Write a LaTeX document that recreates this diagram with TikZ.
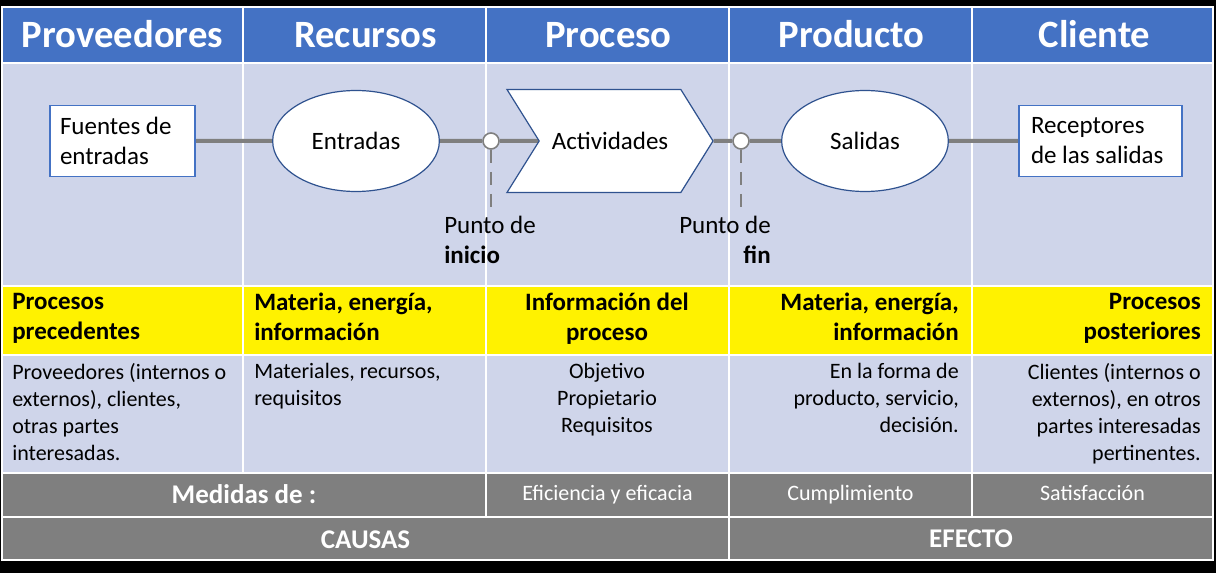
\documentclass[tikz,border=0pt]{standalone}
\usepackage{fontspec}
\setmainfont{Carlito}
\usetikzlibrary{positioning,shapes.geometric,shapes.symbols}
\definecolor{cabecera}{HTML}{4472C4}
\definecolor{fondo}{HTML}{CFD5EA}
\definecolor{gris}{HTML}{7F7F7F}
\definecolor{borde}{HTML}{2F528F}
\pgfdeclarelayer{tabla}
\pgfdeclarelayer{lineas}
\pgfsetlayers{tabla,lineas,main}
\begin{document}
\begin{tikzpicture}[x=.75pt,y=-.75pt,
  cell/.style={inner sep=0pt,execute at begin node=\strut},
  cabtxt/.style={cell,text=white,font=\bfseries\fontsize{29}{34}\selectfont},
  cuerpo/.style={font=\fontsize{18.75}{22.5}\selectfont},
  ylw/.style={cell,font=\bfseries\fontsize{18.75}{22.5}\selectfont},
  desc/.style={cell,font=\fontsize{16.5}{20.25}\selectfont},
  gristxt/.style={cell,text=white,font=\fontsize{16.5}{20}\selectfont},
  grisbold/.style={cell,text=white,font=\bfseries\fontsize{20.25}{24}\selectfont},
  caja/.style={cuerpo,draw=cabecera,line width=.9pt,fill=white,align=flush left,minimum height=53.25pt,inner ysep=0pt},
  elip/.style={cuerpo,ellipse,draw=borde,line width=.9pt,fill=white,minimum width=125pt,minimum height=75.75pt,inner sep=0pt},
  punto/.style={circle,draw=gris,line width=1.2pt,fill=white,minimum size=12pt,inner sep=0pt},
  enlace/.style={gris,line width=3pt},
  guia/.style={gris,line width=2.2pt,dash pattern=on 9.75pt off 6.75pt}]
\useasboundingbox (0,0) rectangle (1216,573);
% tabla
\begin{pgfonlayer}{tabla}
\fill (0,0) rectangle (1216,573);
\fill[cabecera] (2,7) rectangle (1213,63);
\fill[fondo] (2,63) rectangle (1213,286);
\fill[yellow] (2,286) rectangle (1213,355);
\fill[fondo] (2,355) rectangle (1213,473);
\fill[gris] (2,473) rectangle (1213,560);
\draw[white,line width=1pt] (2,7) rectangle (1213,560);
\foreach \y in {63,286,355,473,517} \draw[white,line width=1pt] (2,\y) -- (1213,\y);
\foreach \x in {243,486,729,972} \draw[white,line width=.8pt] (\x,7) -- (\x,473);
\foreach \x in {486,729,972} \draw[white,line width=1pt] (\x,473) -- (\x,517);
\draw[white,line width=1pt] (729,517) -- (729,560);
\end{pgfonlayer}
% cabeceras
\foreach \nom [count=\i] in {Proveedores,Recursos,Proceso,Producto,Cliente}
  \node[cabtxt,anchor=base] (cab\i) at ({243*\i-120.5},48) {\nom};
% flujo
\node[caja,text width=93.75pt,inner xsep=7.5pt] (fuentes) at (122.5,141) {Fuentes de\\entradas};
\node[elip] (entradas) at (356,141) {Entradas};
\node[punto] (ini) at (491,141) {};
\node[cuerpo,signal,signal to=east,signal from=west,signal pointer angle=116,draw=borde,line width=.9pt,fill=white,minimum width=154.5pt,minimum height=77.25pt,inner sep=0pt] (act) at (610,141) {Actividades};
\node[punto] (fin) at (741,141) {};
\node[elip] (salidas) at (865,141) {Salidas};
\node[caja,text width=104.25pt,inner xsep=9pt] (receptores) at (1100.5,141) {Receptores\\de las salidas};
\coordinate (iniend) at (491,208);
\coordinate (finend) at (741,208);
\begin{pgfonlayer}{lineas}
\draw[enlace] (fuentes) -- (entradas) -- (ini) -- (act) -- (fin) -- (salidas) -- (receptores);
\draw[guia] (ini.south) -- (iniend);
\draw[guia] (fin.south) -- (finend);
\end{pgfonlayer}
\node[cell,cuerpo,align=left,anchor=north west] (pinicio) at (444,216) {Punto de\\\textbf{inicio}};
\node[cell,cuerpo,align=right,anchor=north east] (pfin) at (771,216) {Punto de\\\textbf{fin}};
% fila amarilla
\node[ylw,align=left,anchor=north west] (y1) at (12,293) {Procesos\\precedentes};
\node[ylw,align=left,anchor=north west] (y2) at (254,293) {Materia, energía,\\información};
\node[ylw,align=center,anchor=north] (y3) at (607,293) {Información del\\proceso};
\node[ylw,align=right,anchor=north east] (y4) at (959,293) {Materia, energía,\\información};
\node[ylw,align=right,anchor=north east] (y5) at (1201,293) {Procesos\\posteriores};
% descripciones
\node[desc,align=left,anchor=north west] (d1) at (12,363) {Proveedores (internos o\\externos), clientes,\\otras partes\\interesadas.};
\node[desc,align=left,anchor=north west] (d2) at (254,363) {Materiales, recursos,\\requisitos};
\node[desc,align=center,anchor=north] (d3) at (607,363) {Objetivo\\Propietario\\Requisitos};
\node[desc,align=right,anchor=north east] (d4) at (959,363) {En la forma de\\producto, servicio,\\decisión.};
\node[desc,align=right,anchor=north east] (d5) at (1201,363) {Clientes (internos o\\externos), en otros\\partes interesadas\\pertinentes.};
% medidas
\node[grisbold,anchor=base] (medidas) at (244,503) {Medidas de :};
\node[gristxt,anchor=base] (efic) at (607.5,500) {Eficiencia y eficacia};
\node[gristxt,anchor=base] (cumpl) at (850.5,500) {Cumplimiento};
\node[gristxt,anchor=base] (satisf) at (1092.5,500) {Satisfacción};
\node[grisbold,anchor=base] (causas) at (365.5,548) {CAUSAS};
\node[grisbold,anchor=base] (efecto) at (971,547) {EFECTO};
\end{tikzpicture}
\end{document}
